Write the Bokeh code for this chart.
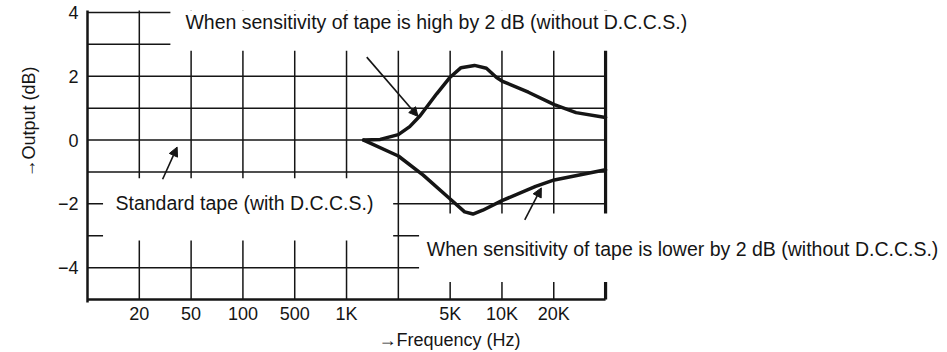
from bokeh.plotting import figure
from bokeh.models import Range1d, FixedTicker, Label, Arrow, NormalHead, Title
from bokeh.embed import file_html
from bokeh.resources import INLINE

# ---- data ----
freq_pos = [1, 2, 3, 4, 5, 6, 7, 8, 9]
freq_labels = ["20", "50", "100", "500", "1K", "", "5K", "10K", "20K"]
db_ticks = [-4, -2, 0, 2, 4]
db_labels = ["\u22124", "\u22122", "0", "2", "4"]

# tape sensitivity high by 2 dB (without D.C.C.S.)
high_x = [5.33, 5.65, 6.0, 6.22, 6.42, 6.74, 7.0, 7.21, 7.47, 7.70, 7.89, 8.0, 8.51, 9.01, 9.43, 10.0]
high_y = [0.0, 0.02, 0.17, 0.42, 0.76, 1.45, 1.97, 2.27, 2.34, 2.25, 1.97, 1.85, 1.50, 1.11, 0.86, 0.71]
# tape sensitivity lower by 2 dB (without D.C.C.S.)
low_x = [5.33, 6.0, 6.48, 7.0, 7.28, 7.44, 7.63, 8.0, 8.65, 9.01, 10.0]
low_y = [0.0, -0.5, -1.1, -1.85, -2.25, -2.32, -2.2, -1.9, -1.45, -1.25, -0.93]

grid_v = [1, 2, 3, 4, 5, 6, 7, 8, 9]
grid_h = [-4, -3, -2, -1, 0, 1, 2, 3, 4]

INK = "#151515"
FONT = "Liberation Sans"

p = figure(width=947, height=350,
           x_range=Range1d(0, 16.6), y_range=Range1d(-5.093, 4.062),
           output_backend="svg", toolbar_location=None,
           min_border_left=87, min_border_right=0,
           min_border_top=10, min_border_bottom=45)
p.outline_line_color = None
p.background_fill_color = "white"
p.border_fill_color = "white"
p.grid.visible = False

# y axis with tick labels
ya = p.yaxis[0]
ya.ticker = FixedTicker(ticks=db_ticks)
ya.major_label_overrides = {t: l for t, l in zip(db_ticks, db_labels)}
ya.axis_line_width = 2.5
ya.axis_line_color = INK
ya.major_tick_in = 0
ya.major_tick_out = 0
ya.minor_tick_line_color = None
ya.major_label_standoff = 9
ya.major_label_text_font = FONT
ya.major_label_text_font_size = "18px"
ya.major_label_text_color = INK

xa = p.xaxis[0]
xa.ticker = FixedTicker(ticks=freq_pos)
xa.major_label_overrides = {t: l for t, l in zip(freq_pos, freq_labels)}
xa.axis_line_color = None
xa.major_tick_line_color = None
xa.minor_tick_line_color = None
xa.major_tick_in = 0
xa.major_tick_out = 0
xa.major_label_standoff = 1
xa.major_label_text_font = FONT
xa.major_label_text_font_size = "18px"
xa.major_label_text_color = INK

# axis titles
p.add_layout(Title(text="\u2192Frequency (Hz)", align="left", offset=291, standoff=2,
                   text_font=FONT, text_font_size="18px", text_font_style="normal",
                   text_color=INK), "below")
p.add_layout(Title(text="\u2192Output (dB)", align="left", offset=125, standoff=30,
                   vertical_align="middle",
                   text_font=FONT, text_font_size="18px", text_font_style="normal",
                   text_color=INK), "left")

# grid
p.segment(x0=grid_v, x1=grid_v, y0=[-5] * len(grid_v), y1=[4.1] * len(grid_v),
          line_color=INK, line_width=1.5)
p.segment(x0=[0] * len(grid_h), x1=[10] * len(grid_h), y0=grid_h, y1=grid_h,
          line_color=INK, line_width=1.5)
p.segment(x0=[10], x1=[10], y0=[-5], y1=[4.1], line_color=INK, line_width=3.2)

# white areas behind the notes
p.quad(left=[1.6, 0.3, 6.4], right=[16.6, 5.9, 16.6],
       bottom=[2.8, -3.15, -4.45], top=[4.2, -1.2, -2.3],
       fill_color="white", line_color=None)

# bottom line
p.segment(x0=[0], x1=[10], y0=[-5], y1=[-5], line_color=INK, line_width=2.5)

# curves
p.line(high_x, high_y, line_color=INK, line_width=3.5, line_join="round", line_cap="round")
p.line(low_x, low_y, line_color=INK, line_width=3.5, line_join="round", line_cap="round")

# pointer arrows
for xs, ys, xe, ye in [(5.39, 2.6, 6.38, 0.74), (1.45, -1.23, 1.73, -0.22), (8.44, -2.5, 8.76, -1.5)]:
    p.add_layout(Arrow(x_start=xs, y_start=ys, x_end=xe, y_end=ye,
                       line_color=INK, line_width=1.6,
                       end=NormalHead(size=9, fill_color=INK, line_color=INK, line_width=1)))

def note(x, y, text, **kw):
    p.add_layout(Label(x=x, y=y, text=text, text_font=FONT, text_font_size="19.5px",
                       text_color=INK, text_baseline="middle", **kw))

note(1.89, 3.69, "When sensitivity of tape is high by 2 dB (without D.C.C.S.)")
note(0.54, -1.96, "Standard tape (with D.C.C.S.)")
note(6.55, -3.42, "When sensitivity of tape is lower by 2 dB (without D.C.C.S.)")

open("out.html", "w").write(file_html(p, INLINE))
